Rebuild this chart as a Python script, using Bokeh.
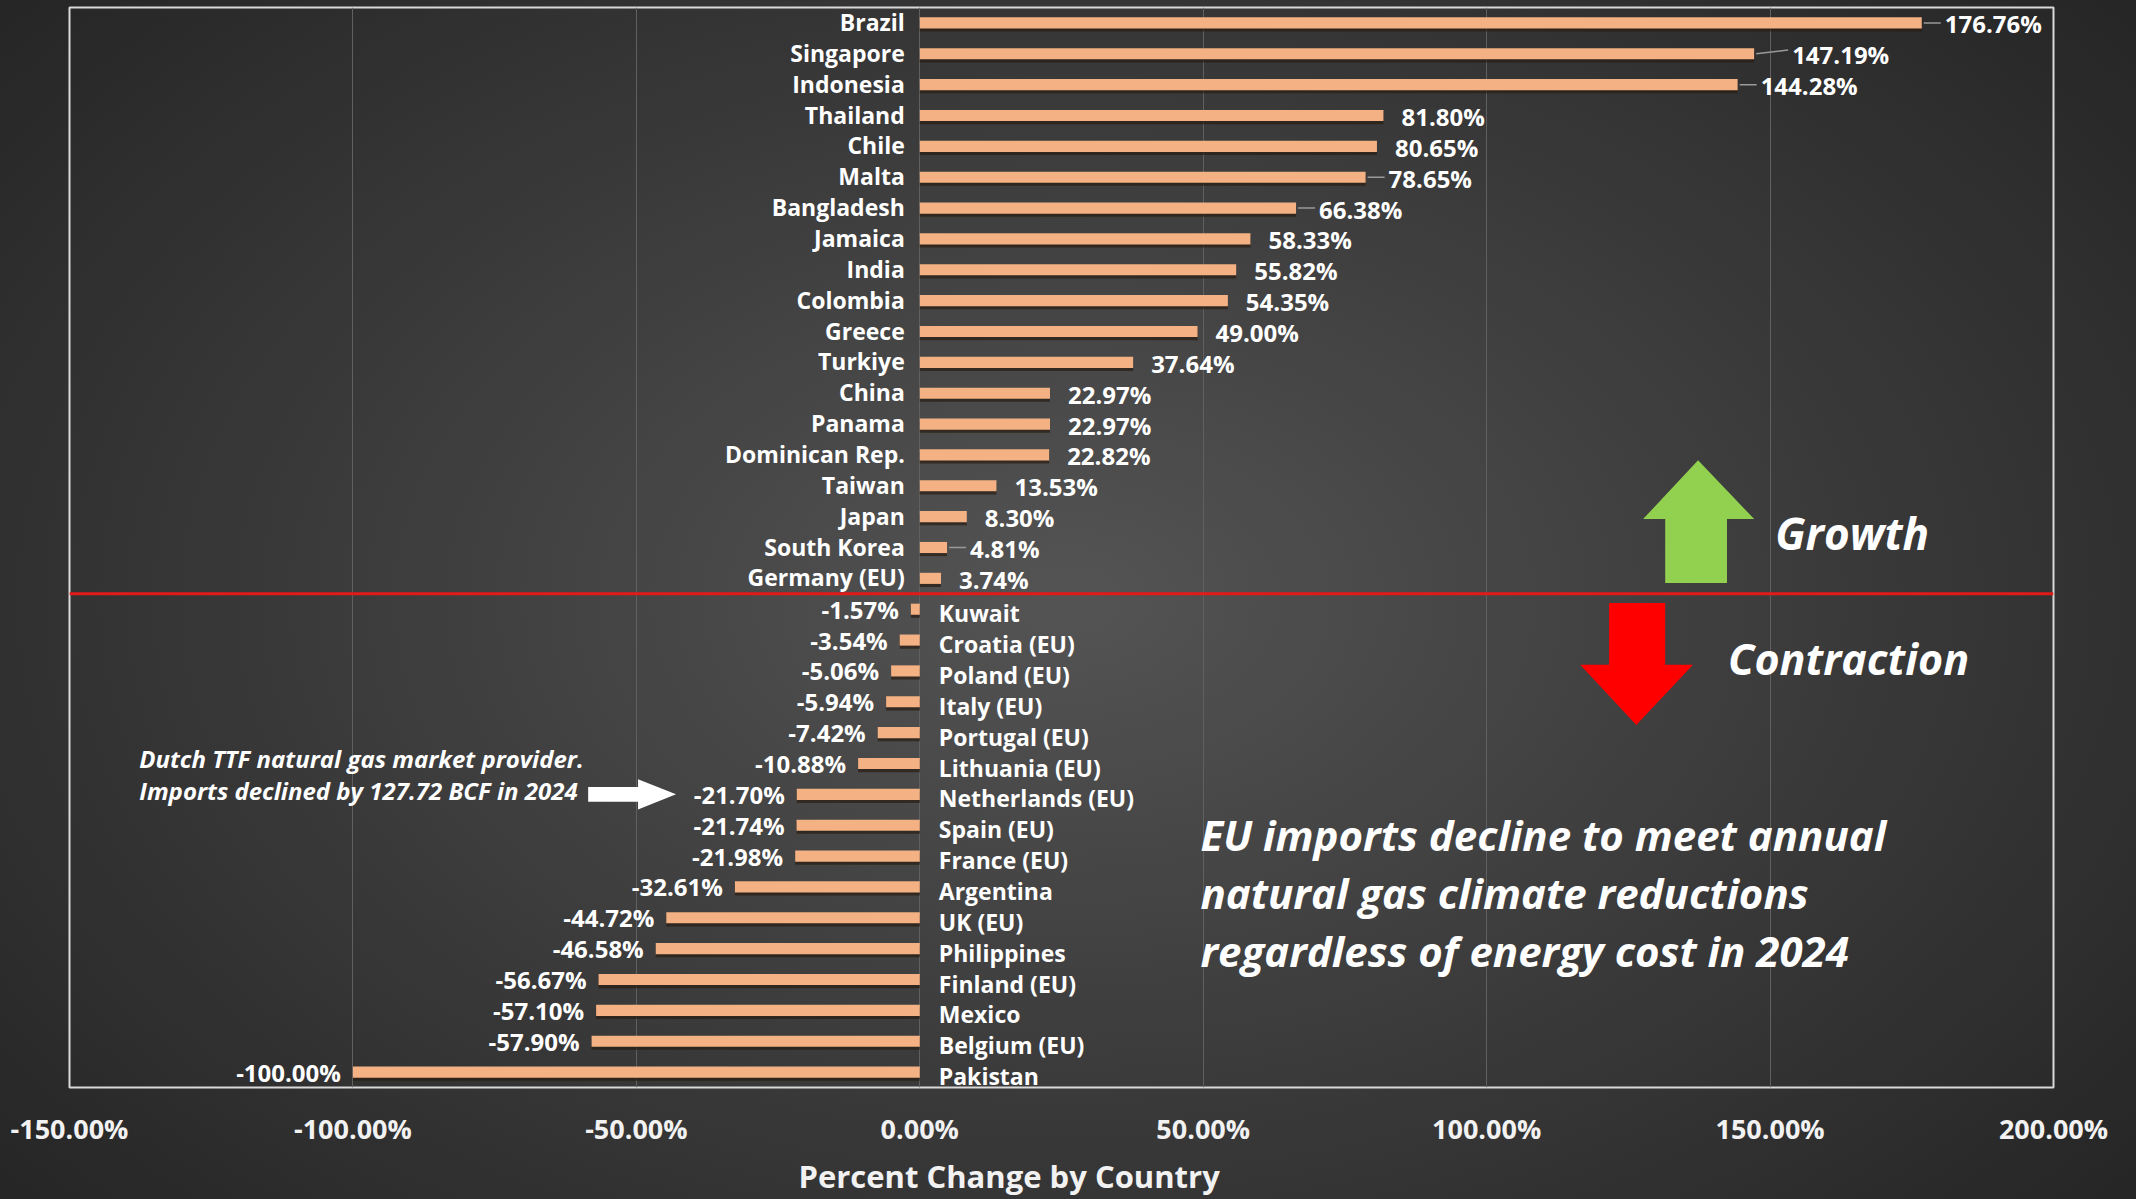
from bokeh.plotting import figure
from bokeh.models import Range1d, FixedTicker, PrintfTickFormatter, ColumnDataSource, Span, Title
from bokeh.core.properties import value
from bokeh.embed import file_html
from bokeh.resources import INLINE

countries = ["Brazil", "Singapore", "Indonesia", "Thailand", "Chile", "Malta", "Bangladesh",
             "Jamaica", "India", "Colombia", "Greece", "Turkiye", "China", "Panama",
             "Dominican Rep.", "Taiwan", "Japan", "South Korea", "Germany (EU)",
             "Kuwait", "Croatia (EU)", "Poland (EU)", "Italy (EU)", "Portugal (EU)",
             "Lithuania (EU)", "Netherlands (EU)", "Spain (EU)", "France (EU)", "Argentina",
             "UK (EU)", "Philippines", "Finland (EU)", "Mexico", "Belgium (EU)", "Pakistan"]
changes = [176.76, 147.19, 144.28, 81.80, 80.65, 78.65, 66.38, 58.33, 55.82, 54.35, 49.00,
           37.64, 22.97, 22.97, 22.82, 13.53, 8.30, 4.81, 3.74,
           -1.57, -3.54, -5.06, -5.94, -7.42, -10.88, -21.70, -21.74, -21.98, -32.61,
           -44.72, -46.58, -56.67, -57.10, -57.90, -100.00]
x_ticks = [-150, -100, -50, 0, 50, 100, 150, 200]
x_title = "Percent Change by Country"
leader_names = ["Brazil", "Singapore", "Indonesia", "Malta", "Bangladesh", "South Korea"]
note_dutch = ["Dutch TTF natural gas market provider.", "Imports declined by 127.72 BCF in 2024"]
note_eu = ["EU imports decline to meet annual", "natural gas climate reductions",
           "regardless of energy cost in 2024"]

FONT = "Open Sans"
W, H = 2136, 1199
n = len(countries)
PXU = 1984 / 350.0  # pixels per percent unit

p = figure(width=W, height=H, output_backend="svg", toolbar_location=None,
           x_range=Range1d(-150, 200), y_range=Range1d(n - 0.5, -0.5),
           min_border_left=69, min_border_right=83, min_border_top=7, min_border_bottom=111)
p.styles = {"background": "radial-gradient(ellipse 65% 75% at 50% 50%, #545454 0%, #3a3a3a 55%, #262626 100%)"}
p.border_fill_color = None
p.background_fill_color = None
p.outline_line_color = "#d9d9d9"
p.outline_line_width = 2

p.yaxis.visible = False
p.ygrid.visible = False
p.xgrid.grid_line_color = "#606060"
p.xgrid.grid_line_width = 1
p.xaxis.ticker = FixedTicker(ticks=x_ticks)
p.xaxis.formatter = PrintfTickFormatter(format="%.2f%%")
p.xaxis.axis_line_color = None
p.xaxis.major_tick_line_color = None
p.xaxis.minor_tick_line_color = None
p.xaxis.major_tick_out = 0
p.xaxis.major_tick_in = 0
p.xaxis.major_label_standoff = 22
p.xaxis.major_label_text_font = FONT
p.xaxis.major_label_text_font_style = "bold"
p.xaxis.major_label_text_font_size = "27px"
p.xaxis.major_label_text_color = "#f2f2f2"

p.add_layout(Title(text=x_title, align="left", offset=729, standoff=6,
                   text_font=FONT, text_font_style="bold", text_font_size="31px",
                   text_color="#f2f2f2"), "below")

ys = list(range(n))
bars = ColumnDataSource(dict(y=ys, v=changes, ys=[y + 0.1 for y in ys]))
p.hbar(y="ys", left=0, right="v", height=0.36, source=bars, fill_color="#2a1c12",
       fill_alpha=0.7, line_color=None)
p.hbar(y="y", left=0, right="v", height=0.36, source=bars, fill_color="#F4B183",
       line_color=None)

# growth / contraction divider
p.add_layout(Span(location=18.5, dimension="width", line_color="#E21A1A", line_width=3))

pos_i = [i for i, v in enumerate(changes) if v >= 0]
neg_i = [i for i, v in enumerate(changes) if v < 0]

def offs(i):
    name = countries[i]
    if name == "Singapore":
        return 38
    if name in leader_names:
        return 23
    return 18

pos_src = ColumnDataSource(dict(
    y=pos_i, v=[changes[i] for i in pos_i], name=[countries[i] for i in pos_i],
    lab=["%.2f%%" % changes[i] for i in pos_i], xoff=[offs(i) for i in pos_i]))
neg_src = ColumnDataSource(dict(
    y=neg_i, v=[changes[i] for i in neg_i], name=[countries[i] for i in neg_i],
    lab=["%.2f%%" % changes[i] for i in neg_i]))

common = dict(text_font=value(FONT), text_font_style="bold", text_color="#ffffff",
              text_baseline="middle")
# category labels
p.text(x=0, y="y", text="name", source=pos_src, text_align="right", x_offset=-15,
       y_offset=-1, text_font_size="23px", **common)
p.text(x=0, y="y", text="name", source=neg_src, text_align="left", x_offset=19,
       y_offset=4, text_font_size="23px", **common)
# value labels
p.text(x="v", y="y", text="lab", source=pos_src, text_align="left", x_offset="xoff",
       y_offset=1, text_font_size="24px", **common)
p.text(x="v", y="y", text="lab", source=neg_src, text_align="right", x_offset=-12,
       y_offset=0, text_font_size="24px", **common)

# leader lines
lead_i = [i for i in pos_i if countries[i] in leader_names]
p.segment(x0=[changes[i] + 2 / PXU for i in lead_i],
          y0=lead_i,
          x1=[changes[i] + (offs(i) - 4) / PXU for i in lead_i],
          y1=[i - (0.12 if countries[i] == "Singapore" else 0) for i in lead_i],
          line_color="#9a9a9a", line_width=1.5)

# arrows
p.patch(x=[137.3, 147.2, 142.4, 142.4, 131.5, 131.5, 127.6],
        y=[14.17, 16.08, 16.08, 18.15, 18.15, 16.08, 16.08],
        fill_color="#92D050", line_color=None)
p.patch(x=[121.6, 131.5, 131.5, 136.4, 126.4, 116.5, 121.6],
        y=[18.80, 18.80, 20.80, 20.80, 22.75, 20.80, 20.80],
        fill_color="#FF0000", line_color=None)
p.patch(x=[-58.5, -49.7, -49.7, -43.0, -49.7, -49.7, -58.5],
        y=[24.76, 24.76, 24.51, 25.0, 25.49, 25.24, 25.24],
        fill_color="#ffffff", line_color=None)

ital = dict(text_font=value(FONT), text_font_style="bold italic", text_color="#ffffff",
            text_baseline="middle", text_align="left")
p.text(x=[150.9], y=[16.53], text=["Growth"], text_font_size="44px", **ital)
p.text(x=[142.6], y=[20.61], text=["Contraction"], text_font_size="43px", **ital)
p.text(x=[49.5, 49.5, 49.5], y=[26.31, 28.19, 30.06], text=note_eu,
       text_font_size="42px", **ital)
p.text(x=[-137.7, -137.7], y=[23.85, 24.88], text=note_dutch,
       text_font_size="24px", **ital)

html = file_html(p, INLINE)
html = html.replace("<body>", '<body style="background:#2a2a2a;">', 1)
open("out.html", "w").write(html)
